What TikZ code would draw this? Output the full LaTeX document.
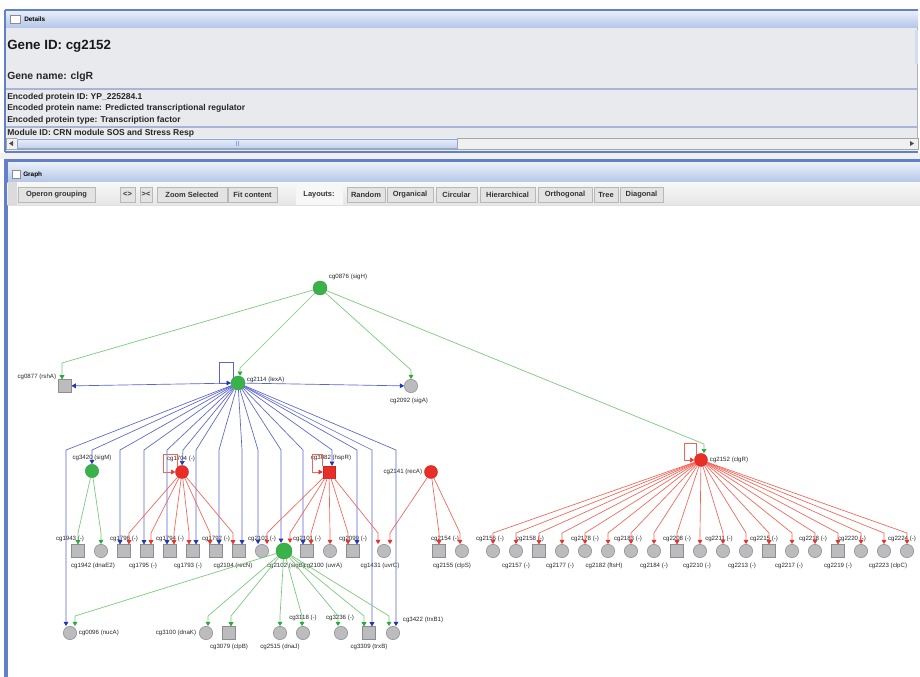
\documentclass[tikz,border=0pt]{standalone}
\usepackage{fontspec}
\setmainfont{Liberation Sans}
\usetikzlibrary{arrows.meta,calc}
\definecolor{pblue}{RGB}{98,128,200}
\definecolor{tbtop}{RGB}{232,238,248}
\definecolor{tbbot}{RGB}{178,198,232}
\definecolor{pgrey}{RGB}{233,234,237}
\definecolor{sepc}{RGB}{170,180,215}
\definecolor{ngreen}{RGB}{58,178,74}
\definecolor{egreen}{RGB}{120,200,120}
\definecolor{agreen}{RGB}{40,170,60}
\definecolor{eblue}{RGB}{92,100,205}
\definecolor{ablue}{RGB}{35,55,175}
\definecolor{nred}{RGB}{232,46,38}
\definecolor{ered}{RGB}{242,100,88}
\definecolor{ared}{RGB}{230,50,40}
\definecolor{ngrey}{RGB}{188,188,190}
\definecolor{bgrey}{RGB}{140,140,145}
\definecolor{txt}{RGB}{40,40,40}
\begin{document}
\begin{tikzpicture}[x=0.75pt,y=-0.75pt,
  gcirc/.style={circle,fill=ngreen,draw=ngreen!85!black,line width=0.3pt,minimum size=10pt,inner sep=0pt},
  rcirc/.style={circle,fill=nred,draw=nred!85!black,line width=0.3pt,minimum size=9.8pt,inner sep=0pt},
  rsq/.style={rectangle,fill=nred,draw=nred!85!black,line width=0.3pt,minimum size=9pt,inner sep=0pt},
  ycirc/.style={circle,fill=ngrey,draw=bgrey,line width=0.4pt,minimum size=10pt,inner sep=0pt},
  ysq/.style={rectangle,fill=ngrey,draw=bgrey,line width=0.4pt,minimum size=9.4pt,inner sep=0pt},
  lbl/.style={font=\fontsize{4.6}{5}\selectfont,text=txt,inner sep=0.5pt},
  be/.style={draw=eblue,line width=0.5pt,-{Triangle[length=3.2pt,width=3.6pt,color=ablue]}},
  re/.style={draw=ered,line width=0.5pt,-{Triangle[length=3.2pt,width=3.6pt,color=ared]}},
  ge/.style={draw=egreen,line width=0.5pt,-{Triangle[length=3.2pt,width=3.6pt,color=agreen]}},
  btn/.style={draw=black!28,fill=black!11,font=\bfseries\fontsize{5.6}{6}\selectfont,text=black!80,minimum height=11.25pt,inner sep=0pt},
  ptxt/.style={font=\bfseries\fontsize{6.4}{7}\selectfont,text=black!85,anchor=west,inner sep=0pt}
]
\useasboundingbox (0,0) rectangle (920,677);
\fill[white] (0,0) rectangle (920,677);
% ---------------- Details panel ----------------
\fill[pgrey] (5,10) rectangle (918,152);
\shade[top color=tbtop,bottom color=tbbot] (6,11) rectangle (918,28);
\draw[pblue,line width=1.4pt] (5,10) -- (918,10);
\draw[pblue,line width=1.4pt] (5,152) -- (918,152);
\draw[pblue,line width=1.4pt] (5,10) -- (5,152);
\draw[black!30,line width=0.5pt] (917,28) -- (917,150);
\fill[tbbot!60] (915,30) rectangle (918,64);
\draw[black!45,fill=white,line width=0.4pt] (10,15) rectangle (20,23);
\node[font=\bfseries\fontsize{4.8}{5}\selectfont,anchor=west,inner sep=0pt] (tdet) at (24,19) {Details};
\node[font=\bfseries\fontsize{10}{12}\selectfont,anchor=west,inner sep=0pt,text=black!90] (gid) at (7,46) {Gene ID: cg2152};
\node[font=\bfseries\fontsize{7.8}{9}\selectfont,anchor=west,inner sep=0pt,text=black!85] (gname) at (7,77) {Gene name: clgR};
\draw[sepc,line width=0.8pt] (6,89) -- (918,89);
\node[ptxt] (l1) at (7,97) {Encoded protein ID: YP\_225284.1};
\node[ptxt] (l2) at (7,108.5) {Encoded protein name: Predicted transcriptional regulator};
\node[ptxt] (l3) at (7,120) {Encoded protein type: Transcription factor};
\draw[sepc,line width=0.8pt] (6,127) -- (918,127);
\begin{scope}
\clip (6,128) rectangle (918,137.5);
\node[ptxt] (l4) at (7,133.5) {Module ID: CRN module SOS and Stress Resp};
\end{scope}
% horizontal scrollbar
\fill[black!6] (6,138) rectangle (918,149);
\draw[black!35,line width=0.3pt] (6,138) rectangle (918,149);
\shade[top color=tbtop,bottom color=tbbot!80] (17,139) rectangle (457,148);
\draw[pblue!70,line width=0.3pt] (17,139) rectangle (457,148);
\draw[pblue!70,line width=0.3pt] (236,141) -- (236,146) (238,141) -- (238,146);
\fill[black!70] (9,143.5) -- (13,141) -- (13,146) -- cycle;
\fill[black!70] (914,143.5) -- (910,141) -- (910,146) -- cycle;
% gap
\fill[black!6] (0,153.5) rectangle (920,159.5);
% ---------------- Graph panel ----------------
\fill[pblue] (5,159.5) rectangle (920,163);
\shade[top color=tbtop,bottom color=tbbot] (8,163) rectangle (920,182.5);
\fill[pblue] (4,159.5) rectangle (7.5,677);
\draw[black!45,fill=white,line width=0.4pt] (12,170.5) rectangle (20,178.5);
\node[font=\bfseries\fontsize{4.8}{5}\selectfont,anchor=west,inner sep=0pt] (tgra) at (23,174.5) {Graph};
\shade[top color=black!3,bottom color=black!10] (7.5,182.5) rectangle (920,205.5);
\fill[black!14] (7.5,182.5) rectangle (17,205.5);
\fill[black!3] (296,184) rectangle (343,205);
\draw[black!12,line width=0.4pt] (7.5,205.5) -- (920,205.5);
\node[btn,minimum width=57.75pt] (bop) at (56.5,194.5) {Operon grouping};
\node[btn,minimum width=11.25pt] (bzi) at (127.5,194.5) {<>};
\node[btn,minimum width=9pt] (bzo) at (146,194.5) {><};
\node[btn,minimum width=52.5pt] (bzs) at (192,194.5) {Zoom Selected};
\node[btn,minimum width=36.75pt] (bfc) at (252.5,194.5) {Fit content};
\node[font=\bfseries\fontsize{5.6}{6}\selectfont,text=black!80] (blay) at (319,194.5) {Layouts:};
\node[btn,minimum width=28.5pt] (bra) at (366,194.5) {Random};
\node[btn,minimum width=34.5pt] (bor) at (410,194.5) {Organical};
\node[btn,minimum width=30.75pt] (bci) at (456.5,194.5) {Circular};
\node[btn,minimum width=41.25pt] (bhi) at (507.5,194.5) {Hierarchical};
\node[btn,minimum width=40.5pt] (bot) at (565,194.5) {Orthogonal};
\node[btn,minimum width=18pt] (btr) at (606,194.5) {Tree};
\node[btn,minimum width=32.25pt] (bdi) at (641.5,194.5) {Diagonal};
% ---------------- Graph nodes ----------------
\node[gcirc,minimum size=10.5pt] (sigH) at (320,288) {};
\node[lbl,anchor=west] (lsigH) at (328,277) {cg0876 (sigH)};
\node[gcirc,minimum size=10.5pt] (lexA) at (238,383) {};
\node[lbl,anchor=west] (llexA) at (246,380) {cg2114 (lexA)};
\node[ysq] (rshA) at (65,386) {};
\node[lbl,anchor=east] (lrshA) at (57,377) {cg0877 (rshA)};
\node[ycirc] (sigA) at (411,386) {};
\node[lbl] (lsigA) at (409,401) {cg2092 (sigA)};
% second row
\node[gcirc] (G1) at (92,471) {};
\node[lbl] (lG1) at (92,458) {cg3420 (sigM)};
\node[rcirc] (R1) at (182,472) {};
\node[lbl] (lR1) at (181,459) {cg1704 (-)};
\node[rsq] (R2) at (329,472) {};
\node[lbl] (lR2) at (331,458) {cg3082 (hspR)};
\node[rcirc] (R3) at (431,472) {};
\node[lbl,anchor=east] (lR3) at (423,472) {cg2141 (recA)};
\node[rcirc] (clgR) at (701,460) {};
\node[lbl,anchor=west] (lclgR) at (709,460) {cg2152 (clgR)};
% bottom-left group
\node[ysq] (b1) at (78,551) {};   \node[lbl] (lb1) at (70,539) {cg1943 (-)};
\node[ycirc] (b2) at (101,551) {}; \node[lbl] (lb2) at (93,566) {cg1942 (dnaE2)};
\node[ysq] (b3) at (124,551) {};  \node[lbl] (lb3) at (124,539) {cg1796 (-)};
\node[ysq] (b4) at (147,551) {};  \node[lbl] (lb4) at (143,566) {cg1795 (-)};
\node[ysq] (b5) at (170,551) {};  \node[lbl] (lb5) at (170,539) {cg1794 (-)};
\node[ysq] (b6) at (193,551) {};  \node[lbl] (lb6) at (188,566) {cg1793 (-)};
\node[ysq] (b7) at (216,551) {};  \node[lbl] (lb7) at (216,539) {cg1792 (-)};
\node[ysq] (b8) at (239,551) {};  \node[lbl] (lb8) at (233,566) {cg2104 (recN)};
\node[ycirc] (b9) at (262,551) {}; \node[lbl] (lb9) at (262,539) {cg2103 (-)};
\node[gcirc,minimum size=12pt] (b10) at (284,551) {}; \node[lbl] (lb10) at (286,566) {cg2102 (sigB)};
\node[ysq] (b11) at (307,551) {}; \node[lbl] (lb11) at (307,539) {cg2101 (-)};
\node[ycirc] (b12) at (330,551) {}; \node[lbl] (lb12) at (323,566) {cg2100 (uvrA)};
\node[ysq] (b13) at (353,551) {}; \node[lbl] (lb13) at (353,539) {cg2099 (-)};
\node[ycirc] (b14) at (384,551) {}; \node[lbl] (lb14) at (380,566) {cg1431 (uvrC)};
\node[ysq] (b15) at (439,551) {}; \node[lbl] (lb15) at (445,539) {cg2154 (-)};
\node[ycirc] (b16) at (462,551) {}; \node[lbl] (lb16) at (452,566) {cg2155 (clpS)};
% bottom-right group
\node[ycirc] (r1) at (493,551) {}; \node[lbl] (lr1) at (490,539) {cg2156 (-)};
\node[ycirc] (r2) at (516,551) {}; \node[lbl] (lr2) at (516,566) {cg2157 (-)};
\node[ysq] (r3) at (539,551) {};  \node[lbl] (lr3) at (530,539) {cg2158 (-)};
\node[ycirc] (r4) at (562,551) {}; \node[lbl] (lr4) at (560,566) {cg2177 (-)};
\node[ycirc] (r5) at (585,551) {}; \node[lbl] (lr5) at (585,539) {cg2178 (-)};
\node[ycirc] (r6) at (608,551) {}; \node[lbl] (lr6) at (604,566) {cg2182 (ftsH)};
\node[ycirc] (r7) at (631,551) {}; \node[lbl] (lr7) at (628,539) {cg2183 (-)};
\node[ycirc] (r8) at (654,551) {}; \node[lbl] (lr8) at (654,566) {cg2184 (-)};
\node[ysq] (r9) at (677,551) {};  \node[lbl] (lr9) at (677,539) {cg2208 (-)};
\node[ycirc] (r10) at (700,551) {}; \node[lbl] (lr10) at (697,566) {cg2210 (-)};
\node[ycirc] (r11) at (723,551) {}; \node[lbl] (lr11) at (719,539) {cg2211 (-)};
\node[ycirc] (r12) at (746,551) {}; \node[lbl] (lr12) at (742,566) {cg2213 (-)};
\node[ysq] (r13) at (769,551) {};  \node[lbl] (lr13) at (764,539) {cg2215 (-)};
\node[ycirc] (r14) at (792,551) {}; \node[lbl] (lr14) at (789,566) {cg2217 (-)};
\node[ycirc] (r15) at (815,551) {}; \node[lbl] (lr15) at (813,539) {cg2218 (-)};
\node[ysq] (r16) at (838,551) {};  \node[lbl] (lr16) at (838,566) {cg2219 (-)};
\node[ycirc] (r17) at (861,551) {}; \node[lbl] (lr17) at (852,539) {cg2220 (-)};
\node[ycirc] (r18) at (884,551) {}; \node[lbl] (lr18) at (888,566) {cg2223 (clpC)};
\node[ycirc] (r19) at (907,551) {}; \node[lbl] (lr19) at (902,539) {cg2224 (-)};
% lowest row
\node[ycirc] (c1) at (70,633) {};  \node[lbl,anchor=west] (lc1) at (78,633) {cg0096 (nucA)};
\node[ycirc] (c2) at (206,633) {}; \node[lbl,anchor=east] (lc2) at (197,633) {cg3100 (dnaK)};
\node[ysq] (c3) at (229,633) {};   \node[lbl] (lc3) at (229,647) {cg3079 (clpB)};
\node[ycirc] (c4) at (280,633) {}; \node[lbl] (lc4) at (280,647) {cg2515 (dnaJ)};
\node[ycirc] (c5) at (303,633) {}; \node[lbl] (lc5) at (303,618) {cg3118 (-)};
\node[ycirc] (c6) at (341,633) {}; \node[lbl] (lc6) at (340,618) {cg3236 (-)};
\node[ysq] (c7) at (369,633) {};   \node[lbl] (lc7) at (369,647) {cg3309 (trxB)};
\node[ycirc] (c8) at (393,633) {}; \node[lbl,anchor=west] (lc8) at (402,620) {cg3422 (trxB1)};
% ---------------- Edges ----------------
% green from sigH
\draw[ge] (sigH) -- (62,363) -- ($(rshA.north)+(-3,0)$);
\draw[ge] (sigH) -- (240,368) -- ($(lexA.north)+(2,0)$);
\draw[ge] (sigH) -- (411,370) -- (sigA.north);
\draw[ge] (sigH) -- (704,444) -- ($(clgR.north)+(3,0)$);
% blue from lexA
\draw[be] (lexA) -- (rshA);
\draw[be] (lexA) -- (sigA);
\draw[be] (lexA.135) |- (219,362) |- (lexA.west);
\draw[be] (lexA) -- (66,450) -- ($(c1.north)+(-4,0)$);
\draw[be] (lexA) -- (92,450) -- (G1.north);
\draw[be] (lexA) -- (183,450) -- (R1.north);
\draw[be] (lexA) -- (332,450) -- ($(R2.north)+(3,0)$);
\draw[be] (lexA) -- (120,450) -- ($(b3.north)+(-4,0)$);
\draw[be] (lexA) -- (144,450) -- ($(b4.north)+(-3,0)$);
\draw[be] (lexA) -- (167,450) -- ($(b5.north)+(-3,0)$);
\draw[be] (lexA) -- (196,450) -- ($(b6.north)+(3,0)$);
\draw[be] (lexA) -- (219,450) -- ($(b7.north)+(3,0)$);
\draw[be] (lexA) -- (242,450) -- ($(b8.north)+(3,0)$);
\draw[be] (lexA) -- (258,450) -- ($(b9.north)+(-4,0)$);
\draw[be] (lexA) -- (281,450) -- ($(b10.north)+(-3,0)$);
\draw[be] (lexA) -- (303,450) -- ($(b11.north)+(-4,0)$);
\draw[be] (lexA) -- (357,450) -- ($(b13.north)+(4,0)$);
\draw[be] (lexA) -- (372,450) -- ($(c7.north)+(3,0)$);
\draw[be] (lexA) -- (396,450) -- ($(c8.north)+(3,0)$);
% red self loops
\draw[re] (R1.135) |- (163,454) |- (R1.west);
\draw[re] (R2.north west) |- (312,454) |- (R2.west);
\draw[re] (clgR.135) |- (684,443) |- (clgR.west);
% red from R1
\draw[re] (R1) -- (129,533) -- ($(b3.north)+(5,0)$);
\draw[re] (R1) -- (151,533) -- ($(b4.north)+(4,0)$);
\draw[re] (R1) -- (174,533) -- ($(b5.north)+(4,0)$);
\draw[re] (R1) -- (189,533) -- ($(b6.north)+(-4,0)$);
\draw[re] (R1) -- (210,533) -- ($(b7.north)+(-6,0)$);
\draw[re] (R1) -- (233,533) -- ($(b8.north)+(-6,0)$);
% red from R2
\draw[re] (R2) -- (267,533) -- ($(b9.north)+(5,0)$);
\draw[re] (R2) -- (290,533) -- ($(b10.north)+(6,0)$);
\draw[re] (R2) -- (311,533) -- ($(b11.north)+(4,0)$);
\draw[re] (R2) -- (330,533) -- (b12.north);
\draw[re] (R2) -- (348,533) -- ($(b13.north)+(-5,0)$);
\draw[re] (R2) -- (378,533) -- ($(b14.north)+(-6,0)$);
% red from R3
\draw[re] (R3) -- (390,533) -- ($(b14.north)+(6,0)$);
\draw[re] (R3) -- (439,533) -- (b15.north);
\draw[re] (R3) -- (460,533) -- ($(b16.north)+(-2,0)$);
% red from clgR
\foreach \n/\x in {r1/493,r2/516,r3/539,r4/562,r5/585,r6/608,r7/631,r8/654,r9/677,r10/700,r11/723,r12/746,r13/769,r14/792,r15/815,r16/838,r17/861,r18/884,r19/907}
  \draw[re] (clgR) -- (\x,533) -- (\n.north);
% green from G1
\draw[ge] (G1) -- (78,533) -- (b1.north);
\draw[ge] (G1) -- (101,533) -- (b2.north);
% green from b10
\draw[ge] (b10) -- (75,616) -- ($(c1.north)+(5,0)$);
\draw[ge] (b10) -- (208,616) -- ($(c2.north)+(2,0)$);
\draw[ge] (b10) -- (231,616) -- ($(c3.north)+(2,0)$);
\draw[ge] (b10) -- (280,616) -- (c4.north);
\draw[ge] (b10) -- (302,616) -- ($(c5.north)+(-1,0)$);
\draw[ge] (b10) -- (338,616) -- ($(c6.north)+(-3,0)$);
\draw[ge] (b10) -- (364,616) -- ($(c7.north)+(-5,0)$);
\draw[ge] (b10) -- (389,616) -- ($(c8.north)+(-4,0)$);
\end{tikzpicture}
\end{document}
